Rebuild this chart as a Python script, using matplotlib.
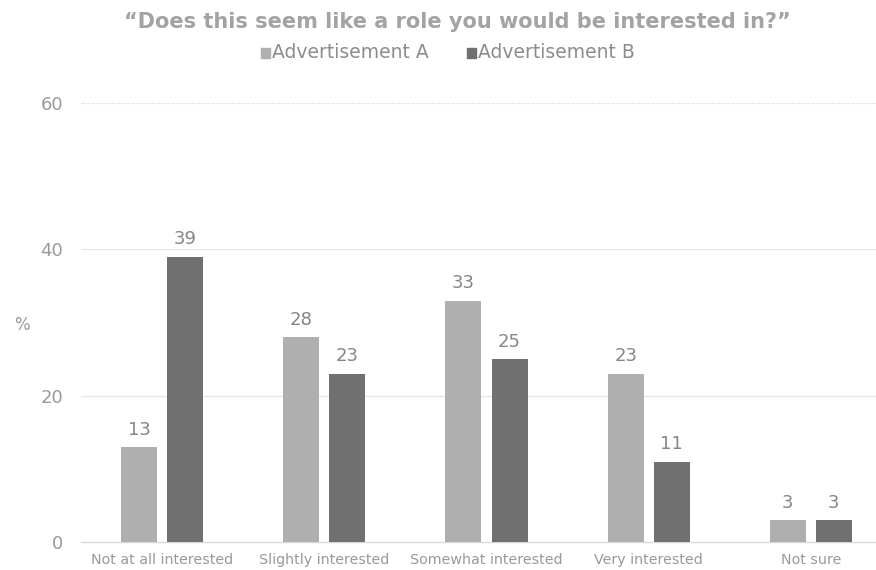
import matplotlib
matplotlib.use("Agg")
import matplotlib.pyplot as plt
import numpy as np
from matplotlib.patches import Rectangle

plt.rcParams["font.family"] = ["DejaVu Sans"]

categories = ["Not at all interested", "Slightly interested", "Somewhat interested",
              "Very interested", "Not sure"]
ad_a = [13, 28, 33, 23, 3]
ad_b = [39, 23, 25, 11, 3]
series_names = ["Advertisement A", "Advertisement B"]
yticks = [0, 20, 40, 60]

COL_A, COL_B = "#afafaf", "#707070"
TXT = "#8c8c8c"

fig = plt.figure(figsize=(8.76, 5.70), dpi=100)
# plot area runs past the right edge of the canvas
ax = fig.add_axes([81 / 876, 28 / 570, 811 / 876, 439 / 570])

x = np.arange(len(categories))
w, gap = 0.222, 0.062
off = (w + gap) / 2
bars_a = ax.bar(x - off, ad_a, w, color=COL_A, zorder=3)
bars_b = ax.bar(x + off, ad_b, w, color=COL_B, zorder=3)

for bars, vals in [(bars_a, ad_a), (bars_b, ad_b)]:
    for b, v in zip(bars, vals):
        ax.annotate(str(v), (b.get_x() + b.get_width() / 2, v),
                    xytext=(0, 6), textcoords="offset points",
                    ha="center", va="bottom", fontsize=13, color="#858585")

ax.set_xlim(-0.5, 4.5)
ax.set_ylim(0, 60)
ax.set_yticks(yticks)
ax.set_xticks(x)
ax.set_xticklabels(categories, fontsize=10.3, color="#999999")
ax.tick_params(axis="y", labelsize=13, labelcolor="#999999", length=0, pad=13)
ax.tick_params(axis="x", length=0, pad=8)

for s in ("top", "right", "left"):
    ax.spines[s].set_visible(False)
ax.spines["bottom"].set_color("#d9d9d9")
ax.spines["bottom"].set_linewidth(1.0)

for yv in yticks[1:]:
    ax.axhline(yv, color="#e6e6e6", lw=0.9,
               ls=(0, (3, 1)) if yv == 60 else "-", zorder=0)

fig.text(22 / 876, 1 - 325 / 570, "%", fontsize=12, color="#999999",
         ha="center", va="center")

fig.text(457 / 876, 1 - 22 / 570,
         "\u201cDoes this seem like a role you would be interested in?\u201d",
         fontsize=15, fontweight="bold", color="#a3a3a3", ha="center", va="center")

# legend row
leg_y = 1 - 53 / 570
for sx, col, name in [(261, COL_A, series_names[0]), (467, COL_B, series_names[1])]:
    fig.patches.append(Rectangle((sx / 876, leg_y - 4.5 / 570), 9 / 876, 9 / 570,
                                 transform=fig.transFigure, color=col))
    fig.text((sx + 11) / 876, leg_y, name, fontsize=13.5, color=TXT,
             ha="left", va="center")

fig.savefig("out.png", dpi=100)
